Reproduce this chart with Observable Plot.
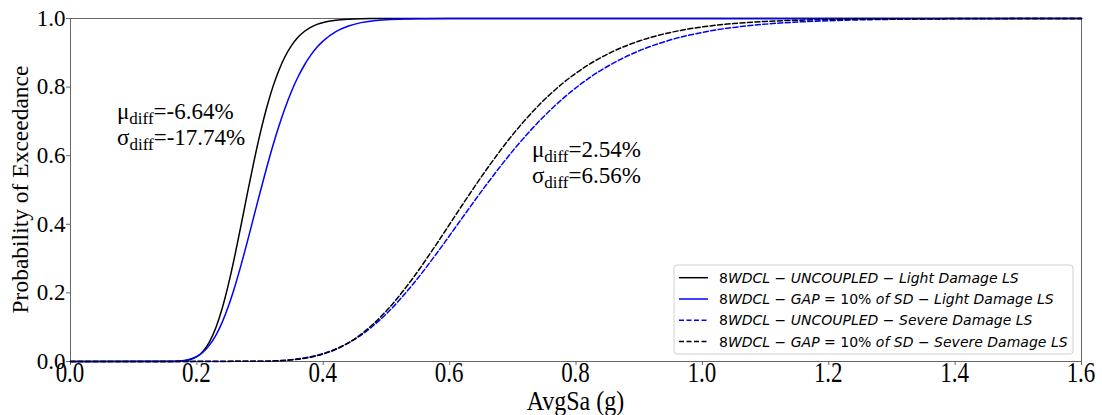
<!DOCTYPE html>
<html><head><meta charset="utf-8">
<script src="https://cdn.jsdelivr.net/npm/d3@7"></script>
<script src="https://cdn.jsdelivr.net/npm/@observablehq/plot@0.6"></script>
<style>body{margin:0;background:#fff} #chart{width:1102px;height:415px}</style>
</head><body><div id="chart"></div>
<script>
// ---- data ----
const seriesNames = [
  "8WDCL − UNCOUPLED − Light Damage LS",
  "8WDCL − GAP = 10% of SD − Light Damage LS",
  "8WDCL − UNCOUPLED − Severe Damage LS",
  "8WDCL − GAP = 10% of SD − Severe Damage LS"
];
const lightX = [0, 0.16, 0.17, 0.18, 0.19, 0.20, 0.21, 0.22, 0.23, 0.24, 0.25, 0.26, 0.27, 0.28, 0.29, 0.30,
  0.31, 0.32, 0.33, 0.34, 0.35, 0.36, 0.37, 0.38, 0.39, 0.40, 0.42, 0.44, 0.46, 0.48, 0.50, 0.53, 0.56, 0.60, 1.6];
const lightUncoupled = [0, 0.0001, 0.0006, 0.0020, 0.0058, 0.0141, 0.0301, 0.0572, 0.0981, 0.1545, 0.2254, 0.3081, 0.3985, 0.4908, 0.5805, 0.6635,
  0.7368, 0.7992, 0.8501, 0.8906, 0.9217, 0.9450, 0.9620, 0.9742, 0.9828, 0.9886, 0.9952, 0.9981, 0.9993, 0.9997, 0.9999, 1, 1, 1, 1];
const lightGap = [0, 0.0004, 0.0012, 0.0031, 0.0072, 0.0148, 0.0278, 0.0477, 0.0762, 0.1141, 0.1616, 0.2180, 0.2816, 0.3501, 0.4215, 0.4928,
  0.5620, 0.6278, 0.6876, 0.7415, 0.7888, 0.8294, 0.8637, 0.8924, 0.9159, 0.9347, 0.9618, 0.9783, 0.9880, 0.9935, 0.9965, 0.9987, 0.9995, 1, 1];
const severeX = [0, 0.30, 0.34, 0.38, 0.42, 0.46, 0.50, 0.54, 0.58, 0.62, 0.66, 0.70, 0.74, 0.78, 0.82, 0.86, 0.90,
  0.95, 1.00, 1.05, 1.10, 1.20, 1.30, 1.40, 1.50, 1.6];
const severeUncoupled = [0, 0.0008, 0.0039, 0.0138, 0.0363, 0.0772, 0.1394, 0.2209, 0.3164, 0.4188, 0.5199, 0.6141, 0.6974, 0.7677, 0.8254, 0.8708, 0.9059,
  0.9378, 0.9596, 0.9741, 0.9836, 0.9936, 0.9976, 0.9991, 0.9997, 1];
const severeGap = [0, 0.0005, 0.0032, 0.0126, 0.0356, 0.0796, 0.1478, 0.2385, 0.3444, 0.4562, 0.5640, 0.6617, 0.7450, 0.8126, 0.8654, 0.9052, 0.9344,
  0.9595, 0.9755, 0.9854, 0.9914, 0.9971, 0.9991, 0.9997, 1, 1];
const xTicks = [0, 0.2, 0.4, 0.6, 0.8, 1.0, 1.2, 1.4, 1.6];
const yTicks = [0, 0.2, 0.4, 0.6, 0.8, 1.0];
const annMu = ["-6.64%", "2.54%"];
const annSigma = ["-17.74%", "6.56%"];
const annX = [0.0744, 0.731];
const annY1 = [0.7055, 0.596];
const annY2 = [0.631, 0.519];

// ---- build rows ----
const toRows = (xs, ys) => xs.map((x, i) => ({x, y: ys[i]}));
const rowsLU = toRows(lightX, lightUncoupled);
const rowsLG = toRows(lightX, lightGap);
const rowsSU = toRows(severeX, severeUncoupled);
const rowsSG = toRows(severeX, severeGap);

const styles = [
  {stroke: "#000000", dash: null},
  {stroke: "#0000ff", dash: null},
  {stroke: "#0000ff", dash: "5,2.5"},
  {stroke: "#000000", dash: "5,2.5"}
];
const axisColor = "#666";

const plot = Plot.plot({
  width: 1102, height: 415,
  marginLeft: 70, marginRight: 21, marginTop: 18, marginBottom: 54,
  style: {fontFamily: "'Liberation Serif', serif", fontSize: "23px", color: "#000", background: "#fff", overflow: "visible"},
  x: {domain: [0, 1.6]},
  y: {domain: [0, 1]},
  marks: [
    Plot.axisX({ticks: xTicks, tickSize: 4, tickFormat: () => "", stroke: axisColor, label: null}),
    Plot.axisY({ticks: yTicks, tickSize: 4, tickPadding: 1, tickFormat: d => d.toFixed(1), stroke: axisColor, fontSize: 23, label: null}),
    Plot.frame({stroke: axisColor, strokeWidth: 1}),
    Plot.line(rowsLU, {x: "x", y: "y", stroke: styles[0].stroke, strokeWidth: 1.5, curve: "monotone-x"}),
    Plot.line(rowsLG, {x: "x", y: "y", stroke: styles[1].stroke, strokeWidth: 1.5, curve: "monotone-x"}),
    Plot.line(rowsSU, {x: "x", y: "y", stroke: styles[2].stroke, strokeWidth: 1.5, strokeDasharray: styles[2].dash, curve: "monotone-x"}),
    Plot.line(rowsSG, {x: "x", y: "y", stroke: styles[3].stroke, strokeWidth: 1.5, strokeDasharray: styles[3].dash, curve: "monotone-x"})
  ]
});
document.getElementById("chart").appendChild(plot);

const sx = plot.scale("x"), sy = plot.scale("y");
const root = d3.select(plot);
// drop Plot's empty x tick-label texts (labels are drawn below, stretched)
root.selectAll('g[aria-label="x-axis tick label"]').remove();
const [x0, x1] = sx.range;
const [yb, yt] = sy.range;
const serif = "'Liberation Serif', serif";

// x tick labels (vertically stretched as in the reference)
root.append("g").attr("text-anchor", "middle").selectAll("text").data(xTicks).join("text")
  .attr("transform", d => `translate(${sx.apply(d)},${yb + 21}) scale(1,1.25)`)
  .attr("font-family", serif).attr("font-size", 23)
  .attr("fill", "#000").text(d => d.toFixed(1));

// axis titles
root.append("text")
  .attr("transform", `translate(${(x0 + x1) / 2},${yb + 48.5}) scale(1,1.1)`)
  .attr("text-anchor", "middle").attr("font-family", serif).attr("font-size", 24)
  .attr("fill", "#000").text("AvgSa (g)");
root.append("text")
  .attr("transform", `translate(28,${(yb + yt) / 2}) rotate(-90)`)
  .attr("text-anchor", "middle").attr("font-family", serif).attr("font-size", 23.5)
  .attr("fill", "#000").text("Probability of Exceedance");

// annotations
annMu.forEach((mu, i) => {
  const lines = [["μ", mu, annY1[i]], ["σ", annSigma[i], annY2[i]]];
  lines.forEach(([g, val, yv]) => {
    const t = root.append("text")
      .attr("x", sx.apply(annX[i])).attr("y", sy.apply(yv))
      .attr("text-anchor", "start")
      .attr("font-family", serif).attr("font-size", 23).attr("fill", "#000");
    t.append("tspan").text(g);
    t.append("tspan").attr("font-size", 17).attr("dy", 5).text("diff");
    t.append("tspan").attr("dy", -5).text("=" + val);
  });
});

// legend
const lg = root.append("g").attr("text-anchor", "start");
const lx = 674, ly = 265, lw = 399, lh = 89;
lg.append("rect").attr("x", lx).attr("y", ly).attr("width", lw).attr("height", lh)
  .attr("rx", 3).attr("fill", "#fff").attr("fill-opacity", 0.85).attr("stroke", "#d0d0d0");
seriesNames.forEach((name, i) => {
  const cy = ly + 12.7 + i * 21.3;
  lg.append("line").attr("x1", lx + 5).attr("x2", lx + 34).attr("y1", cy).attr("y2", cy)
    .attr("stroke", styles[i].stroke).attr("stroke-width", 1.5)
    .attr("stroke-dasharray", styles[i].dash);
  const t = lg.append("text").attr("x", lx + 45).attr("y", cy).attr("dy", "0.36em")
    .attr("text-anchor", "start")
    .attr("font-family", "'DejaVu Sans', sans-serif").attr("font-size", 14).attr("fill", "#000");
  const parts = name.match(/[A-Za-z]+|[^A-Za-z]+/g);
  parts.forEach(p => {
    t.append("tspan").attr("font-style", /[A-Za-z]/.test(p) ? "italic" : "normal")
      .attr("xml:space", "preserve").text(p);
  });
});
</script>
</body></html>
